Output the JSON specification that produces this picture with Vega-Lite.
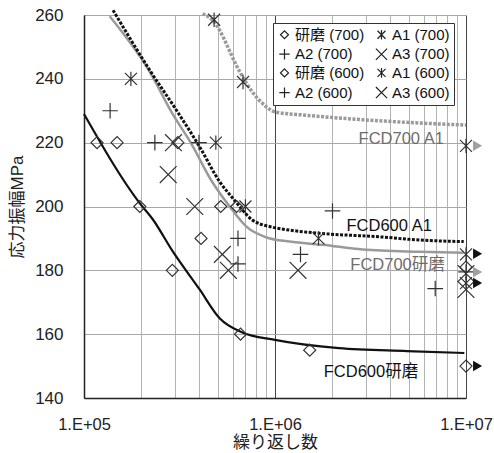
{
  "$schema": "https://vega.github.io/schema/vega-lite/v6.json",
  "width": 382,
  "height": 383,
  "autosize": {"type": "none"},
  "padding": {"left": 84, "top": 15, "right": 28, "bottom": 55},
  "config": {"view": {"stroke": null}, "font": "Liberation Sans, Noto Sans CJK JP"},
  "datasets": {
    "curves": [
      {"c": "FCD700 A1", "n": 418000, "s": 260.4},
      {"c": "FCD700 A1", "n": 472000, "s": 258.3},
      {"c": "FCD700 A1", "n": 654000, "s": 242.2},
      {"c": "FCD700 A1", "n": 711000, "s": 238.5},
      {"c": "FCD700 A1", "n": 827000, "s": 233.3},
      {"c": "FCD700 A1", "n": 911000, "s": 231},
      {"c": "FCD700 A1", "n": 1000000, "s": 229.6},
      {"c": "FCD700 A1", "n": 1448000, "s": 228.6},
      {"c": "FCD700 A1", "n": 3210000, "s": 227},
      {"c": "FCD700 A1", "n": 10000000, "s": 225.5},
      {"c": "FCD700研磨", "n": 136300, "s": 259.6},
      {"c": "FCD700研磨", "n": 221000, "s": 242.2},
      {"c": "FCD700研磨", "n": 291000, "s": 229},
      {"c": "FCD700研磨", "n": 362000, "s": 220},
      {"c": "FCD700研磨", "n": 466000, "s": 208},
      {"c": "FCD700研磨", "n": 579000, "s": 200},
      {"c": "FCD700研磨", "n": 711000, "s": 193.6},
      {"c": "FCD700研磨", "n": 905000, "s": 190.3},
      {"c": "FCD700研磨", "n": 1194000, "s": 189},
      {"c": "FCD700研磨", "n": 1778000, "s": 188},
      {"c": "FCD700研磨", "n": 2880000, "s": 186.5},
      {"c": "FCD700研磨", "n": 5720000, "s": 185.8},
      {"c": "FCD700研磨", "n": 9730000, "s": 185.5},
      {"c": "FCD600 A1", "n": 141900, "s": 261.5},
      {"c": "FCD600 A1", "n": 221000, "s": 242.7},
      {"c": "FCD600 A1", "n": 306000, "s": 230},
      {"c": "FCD600 A1", "n": 403000, "s": 218.7},
      {"c": "FCD600 A1", "n": 514000, "s": 207.7},
      {"c": "FCD600 A1", "n": 615000, "s": 201.9},
      {"c": "FCD600 A1", "n": 764000, "s": 195.7},
      {"c": "FCD600 A1", "n": 972000, "s": 193.5},
      {"c": "FCD600 A1", "n": 1194000, "s": 192.6},
      {"c": "FCD600 A1", "n": 1714000, "s": 191.6},
      {"c": "FCD600 A1", "n": 3530000, "s": 190.5},
      {"c": "FCD600 A1", "n": 5720000, "s": 189.5},
      {"c": "FCD600 A1", "n": 9730000, "s": 189},
      {"c": "FCD600研磨", "n": 100000, "s": 229},
      {"c": "FCD600研磨", "n": 196000, "s": 201},
      {"c": "FCD600研磨", "n": 229000, "s": 196},
      {"c": "FCD600研磨", "n": 291000, "s": 186},
      {"c": "FCD600研磨", "n": 403000, "s": 174},
      {"c": "FCD600研磨", "n": 513000, "s": 165},
      {"c": "FCD600研磨", "n": 670000, "s": 160.6},
      {"c": "FCD600研磨", "n": 1000000, "s": 158.2},
      {"c": "FCD600研磨", "n": 2160000, "s": 155.6},
      {"c": "FCD600研磨", "n": 4900000, "s": 154.7},
      {"c": "FCD600研磨", "n": 9800000, "s": 154.1}
    ],
    "points": [
      {"series": "研磨 (700)", "n": 310000, "s": 220},
      {"series": "研磨 (700)", "n": 520000, "s": 200},
      {"series": "研磨 (700)", "n": 630000, "s": 200},
      {"series": "研磨 (700)", "n": 10000000, "s": 181},
      {"series": "A1 (700)", "n": 480000, "s": 258.5},
      {"series": "A1 (700)", "n": 680000, "s": 239},
      {"series": "A1 (700)", "n": 10000000, "s": 219},
      {"series": "A2 (700)", "n": 2000000, "s": 198.6},
      {"series": "A2 (700)", "n": 1360000, "s": 185},
      {"series": "A2 (700)", "n": 10000000, "s": 179.5},
      {"series": "A3 (700)", "n": 1320000, "s": 180},
      {"series": "A3 (700)", "n": 10000000, "s": 179},
      {"series": "研磨 (600)", "n": 117000, "s": 220},
      {"series": "研磨 (600)", "n": 149000, "s": 220},
      {"series": "研磨 (600)", "n": 196000, "s": 200},
      {"series": "研磨 (600)", "n": 290000, "s": 180},
      {"series": "研磨 (600)", "n": 410000, "s": 190},
      {"series": "研磨 (600)", "n": 660000, "s": 160},
      {"series": "研磨 (600)", "n": 1520000, "s": 155},
      {"series": "研磨 (600)", "n": 10000000, "s": 150},
      {"series": "A1 (600)", "n": 176000, "s": 240},
      {"series": "A1 (600)", "n": 490000, "s": 220},
      {"series": "A1 (600)", "n": 700000, "s": 200},
      {"series": "A1 (600)", "n": 1690000, "s": 190},
      {"series": "A1 (600)", "n": 10000000, "s": 185},
      {"series": "A1 (600)", "n": 10000000, "s": 176},
      {"series": "A2 (600)", "n": 137000, "s": 230},
      {"series": "A2 (600)", "n": 235000, "s": 220},
      {"series": "A2 (600)", "n": 400000, "s": 220},
      {"series": "A2 (600)", "n": 640000, "s": 190},
      {"series": "A2 (600)", "n": 640000, "s": 182},
      {"series": "A2 (600)", "n": 6900000, "s": 174.3},
      {"series": "A3 (600)", "n": 294000, "s": 220},
      {"series": "A3 (600)", "n": 276000, "s": 210},
      {"series": "A3 (600)", "n": 380000, "s": 200},
      {"series": "A3 (600)", "n": 530000, "s": 185},
      {"series": "A3 (600)", "n": 570000, "s": 180},
      {"series": "A3 (600)", "n": 10000000, "s": 174}
    ],
    "runouts": [
      {"g": "700", "n": 11500000, "s": 219},
      {"g": "700", "n": 11500000, "s": 179.5},
      {"g": "600", "n": 11500000, "s": 185.2},
      {"g": "600", "n": 11500000, "s": 176},
      {"g": "600", "n": 11500000, "s": 150}
    ],
    "labels": [
      {"g": "700", "label": "FCD700 A1", "n": 4580000, "s": 221.3},
      {"g": "600", "label": "FCD600 A1", "n": 3960000, "s": 193.9},
      {"g": "700", "label": "FCD700研磨", "n": 4380000, "s": 181.6},
      {"g": "600", "label": "FCD600研磨", "n": 3180000, "s": 148.2}
    ]
  },
  "encoding": {
    "x": {
      "field": "n", "type": "quantitative",
      "scale": {"type": "log", "domain": [100000, 10000000], "nice": false},
      "axis": {
        "title": "繰り返し数",
        "values": [100000, 200000, 300000, 400000, 500000, 600000, 700000, 800000, 900000, 1000000, 2000000, 3000000, 4000000, 5000000, 6000000, 7000000, 8000000, 9000000, 10000000],
        "labelExpr": "datum.value == 100000 ? '1.E+05' : datum.value == 1000000 ? '1.E+06' : datum.value == 10000000 ? '1.E+07' : ''",
        "labelOverlap": false, "labelFlush": false, "labelBound": false,
        "ticks": false, "tickSize": 0,
        "labelPadding": 18, "labelFontSize": 16.5, "labelColor": "#222",
        "titleFontSize": 17, "titleFontWeight": "normal", "titleColor": "#222", "titlePadding": 2,
        "grid": true,
        "gridColor": {"condition": {"test": "datum.value == 100000 || datum.value == 1000000 || datum.value == 10000000", "value": "#444"}, "value": "#b3b3b3"},
        "gridWidth": 1,
        "domainColor": "#222", "domainWidth": 1.5
      }
    },
    "y": {
      "field": "s", "type": "quantitative",
      "scale": {"domain": [140, 260], "nice": false, "zero": false},
      "axis": {
        "title": "応力振幅MPa",
        "values": [140, 160, 180, 200, 220, 240, 260],
        "ticks": false, "tickSize": 0,
        "labelPadding": 21, "labelFontSize": 17, "labelColor": "#222",
        "titleFontSize": 17, "titleFontWeight": "normal", "titleColor": "#222", "titlePadding": 8,
        "grid": true, "gridColor": "#a8a8a8", "gridWidth": 1,
        "domainColor": "#222", "domainWidth": 1.5
      }
    }
  },
  "layer": [
    {
      "data": {"name": "curves"},
      "transform": [{"filter": "datum.c == 'FCD700 A1'"}],
      "mark": {"type": "line", "color": "#9a9a9a", "strokeWidth": 3.5, "strokeDash": [3, 1.5], "interpolate": "monotone"}
    },
    {
      "data": {"name": "curves"},
      "transform": [{"filter": "datum.c == 'FCD700研磨'"}],
      "mark": {"type": "line", "color": "#9a9a9a", "strokeWidth": 2.5, "interpolate": "monotone"}
    },
    {
      "data": {"name": "curves"},
      "transform": [{"filter": "datum.c == 'FCD600 A1'"}],
      "mark": {"type": "line", "color": "#111", "strokeWidth": 3, "strokeDash": [3, 1.5], "interpolate": "monotone"}
    },
    {
      "data": {"name": "curves"},
      "transform": [{"filter": "datum.c == 'FCD600研磨'"}],
      "mark": {"type": "line", "color": "#111", "strokeWidth": 2.2, "interpolate": "monotone"}
    },
    {
      "data": {"name": "points"},
      "mark": {"type": "point", "filled": false, "color": "#333", "strokeWidth": 1.2, "size": 144, "opacity": 1},
      "encoding": {
        "shape": {
          "field": "series", "type": "nominal",
          "scale": {
            "domain": ["研磨 (700)", "A2 (700)", "研磨 (600)", "A2 (600)", "A1 (700)", "A3 (700)", "A1 (600)", "A3 (600)"],
            "range": ["diamond", "M-1.3,0L1.3,0M0,-1.3L0,1.3", "diamond", "M-1.3,0L1.3,0M0,-1.3L0,1.3", "M-1,-1L1,1M-1,1L1,-1M0,-1.2L0,1.2", "M-1.4,-1.4L1.4,1.4M-1.4,1.4L1.4,-1.4", "M-1,-1L1,1M-1,1L1,-1M0,-1.2L0,1.2", "M-1.4,-1.4L1.4,1.4M-1.4,1.4L1.4,-1.4"]
          },
          "legend": {
            "title": null, "orient": "none", "legendX": 189, "legendY": 8,
            "columns": 2, "columnPadding": 8, "rowPadding": 2.7, "padding": 4,
            "strokeColor": "#333", "fillColor": "white",
            "labelFontSize": 15, "labelFont": "Liberation Sans, Noto Sans CJK JP", "labelColor": "#111",
            "symbolSize": 64, "symbolStrokeWidth": 1.2, "symbolStrokeColor": "#222", "symbolFillColor": "transparent",
            "labelOffset": 3
          }
        }
      }
    },
    {
      "data": {"name": "labels"},
      "mark": {"type": "text", "fontSize": 16.5, "font": "Liberation Sans, Noto Sans CJK JP", "align": "center", "baseline": "middle"},
      "encoding": {
        "text": {"field": "label", "type": "nominal"},
        "color": {"condition": {"test": "datum.g == '700'", "value": "#6e6e6e"}, "value": "#111"}
      }
    },
    {
      "data": {"name": "runouts"},
      "mark": {"type": "point", "shape": "triangle-right", "filled": true, "size": 110, "opacity": 1},
      "encoding": {
        "color": {"condition": {"test": "datum.g == '700'", "value": "#a0a0a0"}, "value": "#111"}
      }
    }
  ]
}
